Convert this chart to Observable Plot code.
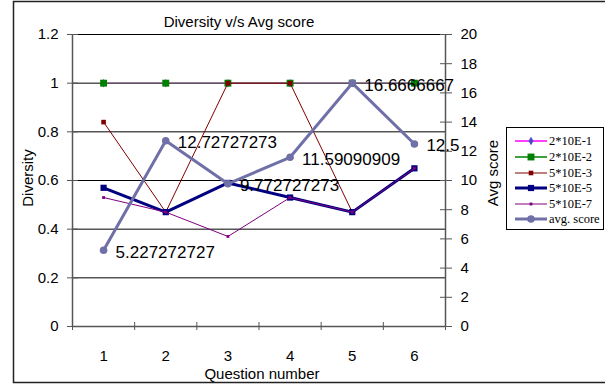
<!DOCTYPE html>
<html>
<head>
<meta charset="utf-8">
<script src="https://cdn.jsdelivr.net/npm/d3@7"></script>
<script src="https://cdn.jsdelivr.net/npm/@observablehq/plot@0.6"></script>
<style>
  body { margin: 0; background: #fff; }
  #chart { position: relative; width: 605px; height: 385px; overflow: hidden; background: #fff;
           font-family: "Liberation Sans", Arial, sans-serif; }
  #chart > svg { position: absolute; left: 0; top: 0; }
</style>
</head>
<body>
<div id="chart"></div>
<script>
// Question numbers on the x axis
const questions = [1, 2, 3, 4, 5, 6];

// Diversity per question for each parameter setting (left axis)
const div2e1 = [1, 1, 1, 1, 1, 1];
const div2e2 = [1, 1, 1, 1, 1, 1];
const div5e3 = [0.84, 0.47, 1, 1, 0.47, 0.65];
const div5e5 = [0.57, 0.47, 0.59, 0.53, 0.47, 0.65];
const div5e7 = [0.53, 0.47, 0.37, 0.53, 0.47, 0.65];

// Average score per question (right axis)
const avgScore = [5.227272727, 12.72727273, 9.772727273, 11.59090909, 16.6666667, 12.5];

// Series names, in drawing order
const seriesNames = ["2*10E-1", "2*10E-2", "5*10E-3", "5*10E-5", "5*10E-7", "avg. score"];

// Axis ticks
const diversityTicks = [0, 0.2, 0.4, 0.6, 0.8, 1, 1.2];
const scoreTicks = [0, 2, 4, 6, 8, 10, 12, 14, 16, 18, 20];

// ---------------------------------------------------------------------------
const W = 605, H = 385;
const frame = { marginLeft: 72, marginRight: 160, marginTop: 34, marginBottom: 59 };
const font = "'Liberation Sans', Arial, sans-serif";
const axisGray = "#555";

const styles = {
  "2*10E-1":   { stroke: "#ff00ff", width: 1.5, opacity: 0.45, symbol: "diamond", r: 2.6, fill: "#4a4ac8" },
  "2*10E-2":   { stroke: "#008000", width: 1.5, opacity: 0.4,  symbol: "square",  r: 3.9, fill: "#008000" },
  "5*10E-3":   { stroke: "#800000", width: 1,   opacity: 1,    symbol: "square",  r: 2.6, fill: "#800000" },
  "5*10E-5":   { stroke: "#000080", width: 3,   opacity: 1,    symbol: "square",  r: 3.5, fill: "#000080" },
  "5*10E-7":   { stroke: "#800080", width: 1,   opacity: 1,    symbol: "square",  r: 1.6, fill: "#800080" },
  "avg. score":{ stroke: "#7070a8", width: 3,   opacity: 1,    symbol: "circle",  r: 3.8, fill: "#7070a8" }
};

const divSeries = [div2e1, div2e2, div5e3, div5e5, div5e7];
const divRows = divSeries.map((vals, k) =>
  questions.map((q, i) => ({ series: seriesNames[k], q, v: vals[i] })));
const scoreRows = questions.map((q, i) => ({ q, v: avgScore[i] }));
const boundaries = questions.map(q => q - 0.5).concat(questions[questions.length - 1] + 0.5);
const xDomain = [boundaries[0], boundaries[boundaries.length - 1]];

const chart = document.getElementById("chart");

// Frame, titles and legend
const deco = d3.select(chart).append("svg").attr("width", W).attr("height", H);
deco.append("path")
  .attr("d", `M${W + 5},1.5 H13.5 V382.5 H${W + 5}`)
  .attr("fill", "none").attr("stroke", "#222").attr("stroke-width", 1.5);
deco.append("text").text("Diversity v/s Avg score")
  .attr("x", 239).attr("y", 27).attr("text-anchor", "middle")
  .attr("font-family", font).attr("font-size", 15);
deco.append("text").text("Diversity")
  .attr("transform", "translate(33,178) rotate(-90)").attr("text-anchor", "middle")
  .attr("font-family", font).attr("font-size", 15);
deco.append("text").text("Avg score")
  .attr("transform", "translate(498,173) rotate(-90)").attr("text-anchor", "middle")
  .attr("font-family", font).attr("font-size", 15);
deco.append("text").text("Question number")
  .attr("x", 262).attr("y", 379).attr("text-anchor", "middle")
  .attr("font-family", font).attr("font-size", 15);

const legend = deco.append("g");
legend.append("rect").attr("x", 506.5).attr("y", 127.5).attr("width", 97).attr("height", 102)
  .attr("fill", "#fff").attr("stroke", "#000");
const rowY = [141, 157, 173, 188, 204, 219];
const symbolTypes = { diamond: d3.symbolDiamond, square: d3.symbolSquare, circle: d3.symbolCircle };
seriesNames.forEach((name, i) => {
  const s = styles[name];
  const g = legend.append("g").attr("transform", `translate(0,${rowY[i]})`);
  g.append("line").attr("x1", 515).attr("x2", 547).attr("y1", 0).attr("y2", 0)
    .attr("stroke", s.stroke).attr("stroke-width", s.width);
  g.append("path").attr("transform", "translate(531,0)")
    .attr("d", d3.symbol(symbolTypes[s.symbol], Math.PI * s.r * s.r)())
    .attr("fill", s.fill);
  g.append("text").text(name).attr("x", 549).attr("y", 4)
    .attr("font-family", "'Liberation Serif', 'Times New Roman', serif").attr("font-size", 12.5);
});

// Diversity chart (left axis)
const seriesMarks = divRows.flatMap(rows => {
  const s = styles[rows[0].series];
  return [
    Plot.line(rows, { x: "q", y: "v", stroke: s.stroke, strokeWidth: s.width, strokeOpacity: s.opacity }),
    Plot.dot(rows, { x: "q", y: "v", symbol: s.symbol, r: s.r, fill: s.fill, stroke: "none" })
  ];
});

const divPlot = Plot.plot({
  width: W, height: H, ...frame,
  style: { background: "transparent", fontFamily: font, color: "#000", overflow: "visible" },
  x: { type: "linear", domain: xDomain, axis: null },
  y: { domain: [0, 1.2], axis: null },
  marks: [
    Plot.ruleY(diversityTicks.filter(t => t > 0), { stroke: "#000", strokeWidth: 1 }),
    Plot.ruleX([xDomain[0]], { stroke: axisGray, strokeWidth: 1.5 }),
    Plot.ruleY([0], { stroke: axisGray, strokeWidth: 1.5 }),
    Plot.axisY(diversityTicks, { label: null, tickSize: 11, dx: 6, tickFormat: () => "", stroke: axisGray }),
    Plot.axisY(diversityTicks, { label: null, tickSize: 0, tickPadding: 14, fontSize: 15, tickFormat: d => String(d) }),
    Plot.axisX(boundaries, { label: null, tickSize: 8, dy: -4, tickFormat: () => "", stroke: axisGray }),
    Plot.axisX(questions, { label: null, tickSize: 0, tickPadding: 24, fontSize: 15, tickFormat: d => String(d) }),
    ...seriesMarks
  ]
});
chart.appendChild(divPlot);

// Average score chart (right axis), drawn over the diversity lines
const sa = styles["avg. score"];
const scorePlot = Plot.plot({
  width: W, height: H, ...frame,
  style: { background: "transparent", fontFamily: font, color: "#000", overflow: "visible" },
  x: { type: "linear", domain: xDomain, axis: null },
  y: { domain: [0, 20], axis: null },
  marks: [
    Plot.ruleX([xDomain[1]], { stroke: axisGray, strokeWidth: 1.5 }),
    Plot.axisY(scoreTicks, { label: null, anchor: "right", tickSize: 12, dx: -6, tickFormat: () => "", stroke: axisGray }),
    Plot.axisY(scoreTicks, { label: null, anchor: "right", tickSize: 0, tickPadding: 15, fontSize: 15, tickFormat: d => String(d) }),
    Plot.line(scoreRows, { x: "q", y: "v", stroke: sa.stroke, strokeWidth: sa.width }),
    Plot.dot(scoreRows, { x: "q", y: "v", symbol: "circle", r: sa.r, fill: sa.fill, stroke: "none" }),
    Plot.text(scoreRows, { x: "q", y: "v", text: d => String(d.v), dx: 12, dy: 2,
                           textAnchor: "start", fontSize: 17, fill: "#000" })
  ]
});
chart.appendChild(scorePlot);
</script>
</body>
</html>
